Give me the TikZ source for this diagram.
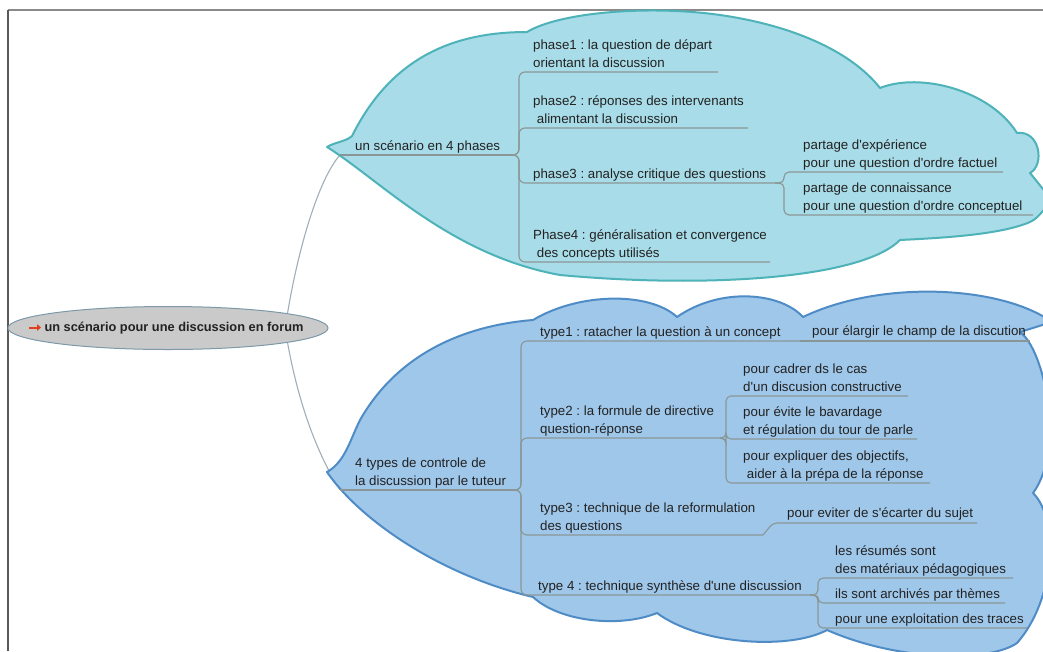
\documentclass[tikz,border=0pt]{standalone}
\usepackage{fontspec}
\setmainfont[Ligatures=TeXOff]{Liberation Sans}
\frenchspacing
\usetikzlibrary{shapes.geometric,arrows.meta}
\definecolor{topfill}{HTML}{A8DCE8}
\definecolor{topdraw}{HTML}{4DB3B9}
\definecolor{botfill}{HTML}{9FC7EA}
\definecolor{botdraw}{HTML}{4F8CC6}
\definecolor{rootfill}{HTML}{CACACA}
\definecolor{rootdraw}{HTML}{7D98A8}
\definecolor{brc}{HTML}{8A9696}
\definecolor{connc}{HTML}{A2AEB8}
\definecolor{txtc}{HTML}{222222}
\definecolor{framec}{HTML}{8A8A8A}
\definecolor{iconc}{HTML}{E0401C}
\begin{document}
\begin{tikzpicture}[x=1pt,y=-1pt,
  txt/.style={anchor=base west,inner sep=0pt,align=left,text=txtc,font=\fontsize{13.3}{18}\selectfont},
  roottxt/.style={inner sep=0pt,text=txtc,font=\fontsize{12.8}{16}\selectfont\bfseries},
  rootnode/.style={ellipse,draw=rootdraw,fill=rootfill,line width=1pt,minimum width=320pt,minimum height=43pt,inner sep=0pt},
  br/.style={draw=brc,line width=1.1pt,rounded corners=6pt},
  conn/.style={draw=connc,line width=1.1pt},
  topcloud/.style={fill=topfill,draw=topdraw,line width=2pt,line join=round},
  botcloud/.style={fill=botfill,draw=botdraw,line width=2pt,line join=round}]
\useasboundingbox (0,0) rectangle (1043,651);
\clip (0,0) rectangle (1043,651);
\fill[white] (0,0) rectangle (1043,651);
% frame
\draw[framec,line width=2.5pt] (8,10) -- (1043,10);
\draw[black!65,line width=1.5pt] (8,10) -- (8,651);

% coordinates of branch lines
\coordinate (s-sc) at (340,155);
\coordinate (j-sc) at (512,155);
\coordinate (e-p1) at (718,72);
\coordinate (e-p2) at (748,128);
\coordinate (e-p3) at (775,183);
\coordinate (e-p4) at (770,262);
\coordinate (e-f1) at (1003,172);
\coordinate (e-f2) at (1033,215);
\coordinate (s-ty) at (340,490);
\coordinate (j-ty) at (515,490);
\coordinate (e-t1) at (800,341);
\coordinate (e-el) at (1030,341);
\coordinate (e-t2) at (720,438);
\coordinate (e-c1) at (908,396);
\coordinate (e-c2) at (917,439);
\coordinate (e-c3) at (930,483);
\coordinate (e-t3) at (763,535);
\coordinate (e-ev) at (977,523);
\coordinate (e-t4) at (810,595);
\coordinate (e-r1) at (1013,578);
\coordinate (e-r2) at (1005,603);
\coordinate (e-r3) at (1027,628);

% root
\node[rootnode] (root) at (168,328) {};
\node[roottxt] (roottext) at (174,328) {un scénario pour une discussion en forum};
\draw[iconc,line width=2pt,-{Triangle[length=4pt,width=6.5pt]}] (29,327.5) -- (41,327.5);

% main connectors
\draw[conn] (root.7) .. controls (298,250) and (318,180) .. (s-sc);
\draw[conn] (root.-7) .. controls (298,400) and (315,450) .. (s-ty);

% top cloud
\path[topcloud] (327,147)
  .. controls (335,142) and (345,142) .. (352,136)
  .. controls (390,60) and (450,32) .. (527,32)
  .. controls (560,12) and (650,5) .. (720,15)
  .. controls (790,25) and (850,50) .. (880,88)
  .. controls (920,72) and (990,90) .. (1017,133)
  .. controls (1040,130) and (1045,165) .. (1030,173)
  .. controls (1040,185) and (1045,192) .. (1052,200)
  .. controls (1040,215) and (1035,220) .. (1030,222)
  .. controls (1000,235) and (940,238) .. (900,240)
  .. controls (860,280) and (700,288) .. (560,275)
  .. controls (450,255) and (380,180) .. (327,147) -- cycle;

% bottom cloud
\path[botcloud] (327,472)
  .. controls (345,462) and (350,440) .. (360,420)
  .. controls (400,350) and (470,325) .. (533,320)
  .. controls (580,292) and (650,292) .. (677,317)
  .. controls (720,287) and (780,292) .. (803,317)
  .. controls (880,280) and (1000,285) .. (1052,322)
  -- (1020,332)
  .. controls (1045,350) and (1065,450) .. (1033,493)
  .. controls (1060,520) and (1055,600) .. (1017,643)
  .. controls (990,662) and (900,662) .. (827,630)
  .. controls (790,650) and (700,645) .. (657,613)
  .. controls (620,628) and (560,622) .. (533,597)
  .. controls (440,575) and (360,520) .. (327,472) -- cycle;

% branch lines, top
\draw[br] (s-sc) -- (j-sc);
\draw[br] (j-sc) -- ++(7,0) |- (e-p1);
\draw[br] (j-sc) -- ++(7,0) |- (e-p2);
\draw[br] (j-sc) -- ++(7,0) |- (e-p3);
\draw[br] (j-sc) -- ++(7,0) |- (e-p4);
\draw[br,rounded corners=5pt] (e-p3) -- ++(9,0) |- (e-f1);
\draw[br,rounded corners=5pt] (e-p3) -- ++(9,0) |- (e-f2);

% branch lines, bottom
\draw[br] (s-ty) -- (j-ty);
\draw[br] (j-ty) -- ++(6,0) |- (e-t1);
\draw[br] (e-t1) -- (e-el);
\draw[br] (j-ty) -- ++(6,0) |- (e-t2);
\draw[br] (j-ty) -- ++(6,0) |- (e-t3);
\draw[br] (j-ty) -- ++(6,0) |- (e-t4);
\draw[br,rounded corners=5pt] (e-t2) -- ++(6,0) |- (e-c1);
\draw[br,rounded corners=5pt] (e-t2) -- ++(6,0) |- (e-c2);
\draw[br,rounded corners=5pt] (e-t2) -- ++(6,0) |- (e-c3);
\draw[br,rounded corners=4pt] (e-t3) -- ++(10,-12) -- (e-ev);
\draw[br,rounded corners=5pt] (e-t4) -- ++(8,0) |- (e-r1);
\draw[br,rounded corners=5pt] (e-t4) -- ++(8,0) |- (e-r2);
\draw[br,rounded corners=5pt] (e-t4) -- ++(8,0) |- (e-r3);

% texts, top cloud (multi-line nodes: base = last line)
\node[txt] (sc) at (355,150) {un scénario en 4 phases};
\node[txt] (p1) at (533,67) {phase1 : la question de départ\\orientant la discussion};
\node[txt] (p2) at (533,123) {phase2 : réponses des intervenants\\\ alimentant la discussion};
\node[txt] (p3) at (533,178) {phase3 : analyse critique des questions};
\node[txt] (p4) at (533,257) {Phase4 : généralisation et convergence\\\ des concepts utilisés};
\node[txt] (f1) at (803,167) {partage d'expérience\\pour une question d'ordre factuel};
\node[txt] (f2) at (803,210) {partage de connaissance\\pour une question d'ordre conceptuel};

% texts, bottom cloud
\node[txt] (ty) at (355,485) {4 types de controle de\\la discussion par le tuteur};
\node[txt] (t1) at (540,336) {type1 : ratacher la question à un concept};
\node[txt] (el) at (812,335) {pour élargir le champ de la discution};
\node[txt] (t2) at (540,433) {type2 : la formule de directive\\question-réponse};
\node[txt] (c1) at (743,391) {pour cadrer ds le cas\\d'un discusion constructive};
\node[txt] (c2) at (743,434) {pour évite le bavardage\\et régulation du tour de parle};
\node[txt] (c3) at (743,478) {pour expliquer des objectifs,\\\ aider à la prépa de la réponse};
\node[txt] (t3) at (540,530) {type3 : technique de la reformulation\\des questions};
\node[txt] (ev) at (787,517) {pour eviter de s'écarter du sujet};
\node[txt] (t4) at (538,590) {type 4 : technique synthèse d'une discussion};
\node[txt] (r1) at (835,573) {les résumés sont\\des matériaux pédagogiques};
\node[txt] (r2) at (835,598) {ils sont archivés par thèmes};
\node[txt] (r3) at (835,623) {pour une exploitation des traces};
\end{tikzpicture}
\end{document}
